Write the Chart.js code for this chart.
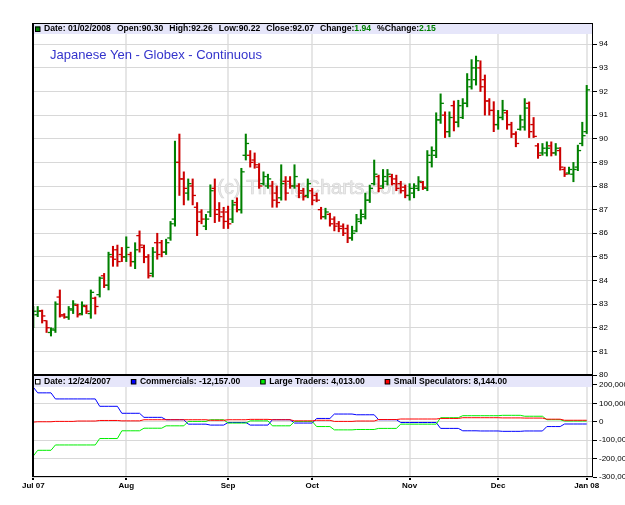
<!DOCTYPE html>
<html>
<head>
<meta charset="utf-8">
<script src="https://cdn.jsdelivr.net/npm/chart.js@4.4.0/dist/chart.umd.min.js"></script>
<style>
  html, body { margin: 0; padding: 0; background: #fff; }
  canvas { display: block; }
</style>
</head>
<body>
<canvas id="yenChart" width="625" height="505"></canvas>
<script>
// month ticks (bar index where each month starts)
const monthLabels = ['Jul 07', 'Aug', 'Sep', 'Oct', 'Nov', 'Dec', 'Jan 08'];
const monthBars = [0, 21, 44, 63, 85, 105, 125];
const priceTicks = [80, 81, 82, 83, 84, 85, 86, 87, 88, 89, 90, 91, 92, 93, 94];
const cotTicks = [-300000, -200000, -100000, 0, 100000, 200000];

// daily OHLC, Jul 2 2007 .. Jan 2 2008
const opens = [
  82.16, 82.55, 82.72, 82.3, 81.8, 81.9, 83.3, 82.55, 82.45, 82.75,
  82.95, 82.6, 82.9, 82.6, 83.25, 83.4, 84.2, 83.8, 85.0, 85.3,
  85.1, 85.0, 85.1, 84.8, 85.9, 85.4, 85.0, 84.3, 85.6, 85.6,
  85.2, 85.8, 86.6, 89.0, 88.3, 87.7, 88.0, 87.1, 86.9, 86.3,
  86.9, 87.9, 87.0, 86.9, 86.9, 86.6, 87.3, 87.0, 89.3, 89.3,
  89.1, 88.8, 88.1, 88.0, 88.0, 87.7, 87.5, 88.2, 88.2, 88.0,
  88.0, 87.8, 87.6, 87.8, 87.6, 87.0, 86.7, 86.8, 86.6, 86.4,
  86.3, 86.2, 85.8, 86.1, 86.5, 86.7, 87.4, 88.1, 88.4, 88.0,
  88.2, 88.4, 88.3, 88.1, 87.95, 87.6, 87.7, 87.9, 88.15, 87.9,
  89.0, 89.3, 90.8, 91.0, 90.3, 91.4, 90.7, 90.9, 91.5, 92.2,
  92.5, 93.0, 92.5, 91.6, 91.2, 90.6, 90.9, 91.1, 90.6, 90.2,
  90.4, 90.5, 91.5, 90.6, 89.7, 89.4, 89.4, 89.7, 89.4, 89.5,
  88.7, 88.55, 88.5, 88.8, 89.8, 90.30
];
const highs = [
  82.9, 82.9, 82.75, 82.3, 82.0, 83.1, 83.6, 82.6, 82.9, 83.15,
  83.0, 83.1, 82.96, 83.6, 83.3, 84.15, 84.3, 85.2, 85.45, 85.5,
  85.4, 85.85, 85.2, 85.6, 86.1, 85.5, 85.1, 85.4, 86.0, 85.7,
  85.75, 86.5, 89.9, 90.2, 88.6, 88.3, 88.3, 87.3, 87.0, 86.8,
  88.05, 88.3, 87.3, 87.1, 87.15, 87.4, 87.5, 88.75, 90.2, 89.5,
  89.4, 88.95, 88.6, 88.5, 88.2, 88.0, 88.9, 88.4, 88.4, 88.9,
  88.1, 87.9, 88.3, 87.9, 87.7, 87.1, 87.06, 86.85, 86.7, 86.5,
  86.4, 86.35, 86.3, 86.8, 87.0, 87.7, 88.04, 89.1, 88.46, 88.7,
  88.7, 88.5, 88.46, 88.2, 88.04, 88.1, 88.1, 88.4, 88.2, 89.5,
  89.66, 91.1, 91.9, 91.14, 91.14, 91.6, 91.63, 91.7, 92.76, 93.35,
  93.5, 93.3, 92.7, 91.7, 91.57, 91.2, 91.63, 91.2, 90.7, 90.3,
  91.0, 91.7, 91.56, 90.9, 89.8, 89.8, 89.87, 89.87, 89.8, 89.63,
  88.8, 88.8, 89.0, 89.73, 90.7, 92.26
];
const lows = [
  82.0, 82.47, 82.2, 81.8, 81.65, 81.8, 82.45, 82.4, 82.35, 82.6,
  82.45, 82.54, 82.6, 82.4, 82.58, 83.3, 83.7, 83.6, 84.6, 84.6,
  84.8, 84.8, 84.6, 84.5, 85.2, 84.75, 84.1, 84.15, 84.9, 85.0,
  85.1, 85.7, 86.3, 87.6, 87.2, 87.4, 87.2, 85.9, 86.4, 86.15,
  86.7, 86.45, 86.5, 86.2, 86.2, 86.45, 86.9, 86.85, 89.1, 88.8,
  88.75, 87.9, 88.04, 87.9, 87.1, 87.1, 87.4, 87.4, 87.9, 87.9,
  87.5, 87.4, 87.5, 87.2, 87.33, 86.6, 86.6, 86.3, 86.1, 86.06,
  85.9, 85.6, 85.7, 86.06, 86.4, 86.6, 87.3, 88.04, 87.75, 87.9,
  88.04, 88.04, 87.8, 87.7, 87.5, 87.4, 87.5, 87.8, 87.85, 87.8,
  88.8, 89.2, 90.65, 90.05, 90.08, 90.33, 90.5, 90.85, 91.35, 92.1,
  92.27, 92.0, 91.0, 91.0, 90.3, 90.4, 90.8, 90.4, 90.05, 89.66,
  90.36, 90.36, 90.05, 90.05, 89.17, 89.3, 89.27, 89.27, 89.3, 88.67,
  88.4, 88.5, 88.18, 88.65, 89.7, 90.22
];
const closes = [
  82.7, 82.7, 82.5, 82.0, 81.95, 83.0, 82.5, 82.45, 82.8, 83.0,
  82.55, 82.95, 82.7, 83.5, 82.9, 84.1, 83.8, 85.1, 84.9, 84.8,
  85.0, 85.4, 84.8, 85.3, 85.5, 85.0, 84.2, 85.2, 85.1, 85.2,
  85.6, 86.4, 89.0, 88.3, 87.9, 88.1, 87.6, 86.5, 86.6, 86.6,
  87.8, 86.8, 86.7, 86.5, 86.4, 87.2, 87.0, 88.6, 89.8, 89.0,
  88.9, 88.0, 88.4, 88.3, 87.4, 87.3, 88.1, 87.7, 88.0, 88.4,
  87.7, 87.55, 88.1, 87.4, 87.4, 86.7, 86.9, 86.4, 86.3, 86.2,
  86.0, 85.8, 86.0, 86.6, 86.8, 87.4, 87.9, 88.5, 87.9, 88.4,
  88.5, 88.1, 87.9, 87.8, 87.6, 87.9, 88.0, 88.2, 87.95, 89.3,
  89.5, 90.8, 91.5, 90.3, 90.9, 90.7, 91.4, 91.5, 92.5, 93.0,
  93.3, 92.2, 91.6, 91.2, 90.6, 90.9, 91.2, 90.6, 90.2, 89.8,
  90.8, 91.3, 90.3, 90.1, 89.3, 89.6, 89.6, 89.4, 89.6, 88.8,
  88.5, 88.7, 88.7, 89.5, 90.13, 92.07
];

// weekly COT net positions, with the bar index each report takes effect
const cotWeekStart = [0, 1, 5, 10, 15, 20, 25, 30, 35, 40, 44, 49, 54, 59, 64, 68, 73, 78, 83, 88, 92, 97, 101, 106, 111, 116, 120];
const commercials = [188000, 157000, 124000, 124000, 84000, 46000, 24000, 11000, -13000, -18000, -4000, -18000, 11000, -7000, 18000, 42000, 38000, 11000, -4000, -4000, -36000, -49000, -50000, -52000, -50000, -26000, -12157];
const largeTraders = [-186000, -155000, -126000, -126000, -91000, -49000, -35000, -22000, 2000, 11000, -7000, 5000, -22000, 2000, -26000, -44000, -42000, -36000, -13000, -13000, 22000, 33000, 33000, 35000, 30000, 11000, 4013];
const smallSpecs = [-2000, 0, 2000, 4000, 7000, 5000, 11000, 11000, 11000, 8000, 11000, 13000, 11000, 5000, 8000, 2000, 4000, 12000, 15000, 15000, 18000, 22000, 22000, 21000, 20000, 14000, 8144];

const GREEN = '#008000', RED = '#cc0000';
const FONT = '"Liberation Sans", Arial, sans-serif';
Chart.defaults.font.family = FONT;

const idx = opens.map((_, i) => i);
const barColors = idx.map(i => closes[i] >= opens[i] ? GREEN : RED);

// each day carries the latest weekly report
function daily(values) {
  return idx.map(d => {
    let k = 0;
    while (k + 1 < cotWeekStart.length && cotWeekStart[k + 1] <= d) k++;
    return { x: d, y: values[k] };
  });
}

const n = closes.length;
const fmt2 = v => v.toFixed(2);
const change = closes[n - 1] - closes[n - 2];
const pctChange = change / closes[n - 2] * 100;
const money = v => v.toLocaleString('en-US', { minimumFractionDigits: 2, maximumFractionDigits: 2 });

const priceHeader = [
  { sq: GREEN, parts: [['Date: 01/02/2008', '#000']] },
  { parts: [['Open:' + fmt2(opens[n - 1]), '#000']] },
  { parts: [['High:' + fmt2(highs[n - 1]), '#000']] },
  { parts: [['Low:' + fmt2(lows[n - 1]), '#000']] },
  { parts: [['Close:' + fmt2(closes[n - 1]), '#000']] },
  { parts: [['Change:', '#000'], [fmt2(change), GREEN]] },
  { parts: [['%Change:', '#000'], [fmt2(pctChange), GREEN]] }
];
const cotHeader = [
  { sq: '#fff', parts: [['Date: 12/24/2007', '#000']] },
  { sq: '#0000ff', parts: [['Commercials: ' + money(commercials[commercials.length - 1]), '#000']] },
  { sq: '#00ee00', parts: [['Large Traders: ' + money(largeTraders[largeTraders.length - 1]), '#000']] },
  { sq: '#ff0000', parts: [['Small Speculators: ' + money(smallSpecs[smallSpecs.length - 1]), '#000']] }
];

function drawHeader(ctx, x, y, items, gap) {
  ctx.font = 'bold 8.6px ' + FONT;
  ctx.textBaseline = 'middle';
  ctx.textAlign = 'left';
  items.forEach(it => {
    if (it.sq) {
      ctx.fillStyle = it.sq;
      ctx.fillRect(x, y - 2.5, 5, 5);
      ctx.strokeStyle = '#000';
      ctx.lineWidth = 1;
      ctx.strokeRect(x + 0.5, y - 2, 4.5, 4.5);
      x += 9;
    }
    it.parts.forEach(([t, c]) => {
      ctx.fillStyle = c;
      ctx.fillText(t, x, y);
      x += ctx.measureText(t).width;
    });
    x += gap;
  });
}

const decor = {
  id: 'decor',
  beforeDatasetsDraw(chart) {
    const { ctx, chartArea: a, scales } = chart;
    const py = scales.y, cy = scales.cot;
    ctx.save();
    ctx.fillStyle = '#e6e6fa';
    ctx.fillRect(a.left, py.top, a.right - a.left, 11);
    ctx.fillRect(a.left, cy.top, a.right - a.left, 12);
    // watermark
    ctx.font = '20px ' + FONT;
    ctx.textAlign = 'center';
    ctx.textBaseline = 'middle';
    const wx = (a.left + a.right) / 2, wy = py.top + (py.bottom - py.top) * 0.47;
    ctx.fillStyle = '#ebebeb';
    ctx.fillText('(c) TimingCharts.com', wx, wy);
    ctx.strokeStyle = '#d6d6d6';
    ctx.lineWidth = 0.7;
    ctx.strokeText('(c) TimingCharts.com', wx, wy);
    ctx.font = '13px ' + FONT;
    ctx.fillStyle = '#3333cc';
    ctx.textAlign = 'left';
    ctx.fillText('Japanese Yen - Globex - Continuous', a.left + 18, py.top + 32);
    ctx.restore();
  },
  afterDraw(chart) {
    const { ctx, chartArea: a, scales } = chart;
    const cy = scales.cot;
    ctx.save();
    ctx.strokeStyle = '#000';
    ctx.lineWidth = 1;
    ctx.strokeRect(a.left + 0.5, a.top + 0.5, a.right - a.left - 1, a.bottom - a.top - 1);
    ctx.fillStyle = '#000';
    ctx.fillRect(a.left, a.top, 2, a.bottom - a.top);
    ctx.fillRect(a.left, cy.top - 1, a.right - a.left, 2);
    drawHeader(ctx, a.left + 3, scales.y.top + 6, priceHeader, 6);
    drawHeader(ctx, a.left + 3, cy.top + 6.5, cotHeader, 20);
    ctx.restore();
  }
};

new Chart(document.getElementById('yenChart'), {
  type: 'bar',
  data: {
    datasets: [
      {
        type: 'bar',
        label: 'High-Low',
        data: idx.map(i => ({ x: i, y: [lows[i], highs[i]] })),
        backgroundColor: barColors,
        barThickness: 1.4,
        yAxisID: 'y'
      },
      {
        type: 'line',
        label: 'Open',
        data: idx.map(i => ({ x: i - 0.38, y: opens[i] })),
        showLine: false,
        pointStyle: 'line',
        pointRadius: 1.6,
        pointBorderWidth: 1.3,
        pointBorderColor: barColors,
        yAxisID: 'y'
      },
      {
        type: 'line',
        label: 'Close',
        data: idx.map(i => ({ x: i + 0.38, y: closes[i] })),
        showLine: false,
        pointStyle: 'line',
        pointRadius: 1.6,
        pointBorderWidth: 1.3,
        pointBorderColor: barColors,
        yAxisID: 'y'
      },
      {
        type: 'line', label: 'Small Speculators', data: daily(smallSpecs),
        borderColor: '#ff0000', borderWidth: 1, pointRadius: 0, yAxisID: 'cot'
      },
      {
        type: 'line', label: 'Large Traders', data: daily(largeTraders),
        borderColor: '#00ee00', borderWidth: 1, pointRadius: 0, yAxisID: 'cot'
      },
      {
        type: 'line', label: 'Commercials', data: daily(commercials),
        borderColor: '#0000ff', borderWidth: 1, pointRadius: 0, yAxisID: 'cot'
      }
    ]
  },
  options: {
    responsive: false,
    animation: false,
    events: [],
    layout: { padding: { left: 32, top: 23, right: 0, bottom: 0 } },
    plugins: { legend: { display: false }, tooltip: { enabled: false } },
    scales: {
      x: {
        type: 'linear',
        offset: false,
        min: -0.29,
        max: 126.42,
        afterBuildTicks: s => { s.ticks = monthBars.map(v => ({ value: v })); },
        afterFit: s => { s.height = 28; },
        ticks: {
          callback: (v, i) => monthLabels[i],
          autoSkip: false, maxRotation: 0, padding: 1,
          color: '#000', font: { size: 8, weight: 'bold' }
        },
        grid: { offset: false, color: '#e6e6e6', lineWidth: 2, tickLength: 3, tickColor: '#000' },
        border: { display: false }
      },
      y: {
        position: 'right',
        stack: 'panels',
        stackWeight: 352,
        min: 80,
        max: 94.9,
        afterBuildTicks: s => { s.ticks = priceTicks.map(v => ({ value: v })); },
        afterFit: s => { s.width = 32; },
        ticks: { autoSkip: false, padding: 2, color: '#000', font: { size: 8 } },
        grid: { color: '#d8d8d8', tickLength: 4, tickColor: '#000' },
        border: { display: false }
      },
      cot: {
        position: 'right',
        stack: 'panels',
        stackWeight: 102,
        min: -300000,
        max: 254000,
        afterBuildTicks: s => { s.ticks = cotTicks.map(v => ({ value: v })); },
        afterFit: s => { s.width = 32; },
        ticks: {
          autoSkip: false, padding: 2, color: '#000', font: { size: 8 },
          callback: v => v.toLocaleString('en-US')
        },
        grid: { color: '#d8d8d8', tickLength: 4, tickColor: '#000' },
        border: { display: false }
      }
    }
  },
  plugins: [decor]
});
</script>
</body>
</html>
